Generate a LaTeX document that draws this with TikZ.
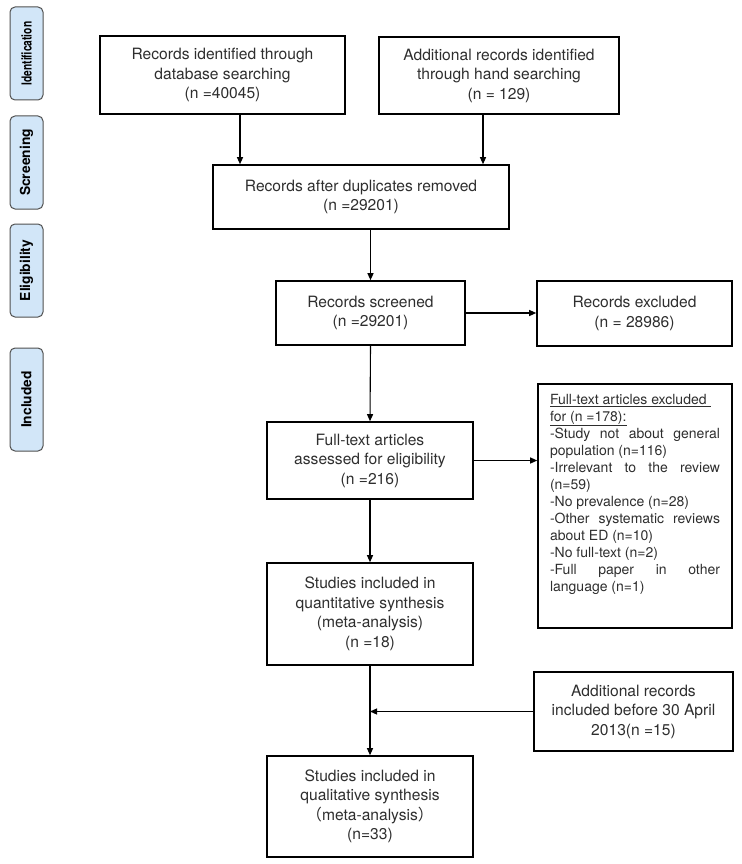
\documentclass[tikz,border=0pt]{standalone}
\usepackage{fontspec}
\setmainfont{TeX Gyre Heros}
\newfontfamily\cjk{Noto Sans CJK SC}
\usepackage{graphicx}
\usepackage{tikz}
\usetikzlibrary{arrows.meta}

\definecolor{txtgray}{HTML}{2E2E2E}
\definecolor{phasefill}{HTML}{D2E6F8}
\definecolor{phaseborder}{HTML}{505050}

\begin{document}
\begin{tikzpicture}
[x=1pt,y=-1pt,
 box/.style={draw=black,line width=1.6pt,inner sep=2pt,align=center,text=txtgray,
	font=\fontsize{15.6}{19.5}\selectfont},
 phase/.style={draw=phaseborder,fill=phasefill,rounded corners=5pt,line width=1pt,
	rotate=90,minimum width=93pt,minimum height=33pt,inner sep=0pt,
	font=\bfseries\fontsize{13.8}{16}\selectfont},
 arr/.style={-{Triangle[length=7pt,width=6pt]},line width=1.1pt,draw=black}]
\useasboundingbox (0,0) rectangle (741,864);

% phase labels on the left
\node[phase] (p1) at (26.5,53.5) {\scalebox{0.74}[1]{Identification}};
\node[phase] (p2) at (26.5,162.5) {Screening};
\node[phase] (p3) at (26.5,270.5) {Eligibility};
\node[phase,minimum width=103pt] (p4) at (26.5,399.5) {Included};

% main column
\node[box,minimum width=245pt,minimum height=78pt] (recDb) at (222.5,75)
	{Records identified through\\database searching\\(n =40045)};
\node[box,minimum width=240pt,minimum height=77pt] (recHand) at (499,75.5)
	{Additional records identified\\through hand searching\\(n = 129)};
\node[box,minimum width=296pt,minimum height=64pt] (dup) at (361,197)
	{Records after duplicates removed\\(n =29201)};
\node[box,minimum width=189pt,minimum height=64pt] (screened) at (370.5,313)
	{Records screened\\(n =29201)};
\node[box,minimum width=206pt,minimum height=77pt] (fulltext) at (370,460.5)
	{Full-text articles\\assessed for eligibility\\(n =216)};
\node[box,minimum width=206pt,minimum height=102pt] (quant) at (370,614)
	{Studies included in\\quantitative synthesis\\(meta-analysis)\\(n =18)};
\node[box,minimum width=206pt,minimum height=101pt] (qual) at (370,806.5)
	{Studies included in\\qualitative synthesis\\{\cjk （}meta-analysis{\cjk ）}\\(n=33)};

% side boxes
\node[box,minimum width=195pt,minimum height=65pt] (excl) at (634.5,313.5)
	{Records excluded\\(n = 28986)};
\node[box,inner sep=0pt,minimum width=194pt,minimum height=244pt,
	font=\fontsize{14}{17}\selectfont] (ftExcl) at (635,506)
	{\parbox[c][224pt][t]{170pt}{\setlength{\parindent}{0pt}%
	\underline{Full-text articles excluded\ }\\
	\underline{for (n =178):}\par
	-Study not about general\linebreak population (n=116)\par
	-Irrelevant to the review\linebreak (n=59)\par
	-No prevalence (n=28)\par
	-Other systematic reviews\linebreak about ED (n=10)\par
	-No full-text (n=2)\par
	-Full paper in other\linebreak language (n=1)}};
\node[box,minimum width=199pt,minimum height=79pt] (addl) at (633.5,711.5)
	{Additional records\\included before 30 April\\2013(n =15)};

% connectors
\coordinate (dbOut) at ([xshift=17.5pt]recDb.south);
\coordinate (handOut) at ([xshift=-16pt]recHand.south);
\path
\foreach \startNode/\endNode in {dbOut/dbOut |- dup.north,
	handOut/handOut |- dup.north,
	screened.north |- dup.south/screened.north,
	screened.east/excl.west |- screened.east,
	screened.south/fulltext.north,
	fulltext.east/ftExcl.west |- fulltext.east,
	fulltext.south/quant.north,
	quant.south/qual.north,
	addl.west/quant.south |- addl.west}
{
	(\startNode) edge[arr] (\endNode)
};
\end{tikzpicture}
\end{document}
